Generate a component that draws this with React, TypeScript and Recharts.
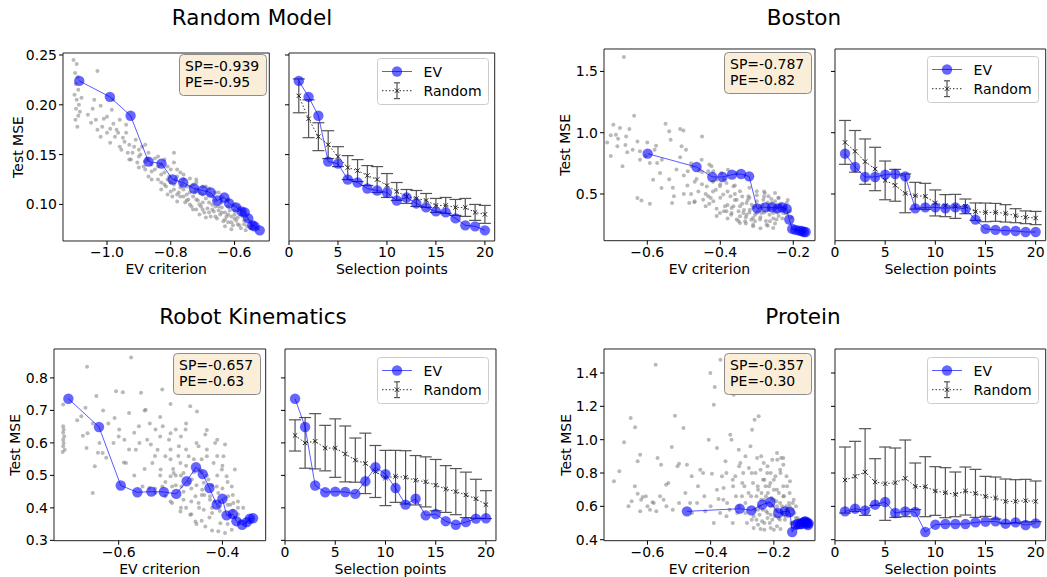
import React from "react";
import {
  ScatterChart,
  Scatter,
  LineChart,
  Line,
  XAxis,
  YAxis,
  ErrorBar,
  ReferenceArea,
  Label,
} from "recharts";

const FONT = "'DejaVu Sans', Verdana, sans-serif";

// ---------- data ----------
const steps = [1, 2, 3, 4, 5, 6, 7, 8, 9, 10, 11, 12, 13, 14, 15, 16, 17, 18, 19, 20];

// Random Model
const rmTitle = "Random Model";
const rmStats = ["SP=-0.939", "PE=-0.95"];
const rmEvCrit = [-1.087, -0.991, -0.926, -0.87, -0.829, -0.794, -0.761, -0.727, -0.7, -0.675, -0.654, -0.632, -0.617, -0.595, -0.578, -0.568, -0.557, -0.544, -0.537, -0.521];
const rmEvMse = [0.224, 0.208, 0.189, 0.143, 0.141, 0.125, 0.122, 0.116, 0.114, 0.112, 0.104, 0.107, 0.101, 0.097, 0.093, 0.092, 0.086, 0.079, 0.078, 0.074];
const rmRndMse = [0.209, 0.186, 0.168, 0.16, 0.148, 0.137, 0.134, 0.129, 0.125, 0.119, 0.113, 0.108, 0.106, 0.104, 0.099, 0.099, 0.097, 0.097, 0.092, 0.09];
const rmRndErr = [0.017, 0.019, 0.014, 0.014, 0.01, 0.012, 0.011, 0.01, 0.013, 0.012, 0.009, 0.007, 0.008, 0.007, 0.007, 0.008, 0.008, 0.009, 0.008, 0.009];
const rmCloud: [number, number][] = [
  [-1.105, 0.245], [-1.095, 0.241], [-1.1, 0.232], [-1.092, 0.228], [-1.098, 0.221], [-1.09, 0.215], [-1.102, 0.21], [-1.095, 0.205],
  [-1.088, 0.2], [-1.097, 0.196], [-1.09, 0.189], [-1.099, 0.185], [-1.093, 0.178], [-1.085, 0.193], [-1.08, 0.207],
  [-1.03, 0.234], [-1.04, 0.205], [-1.02, 0.199], [-1.05, 0.182], [-1.03, 0.175], [-1.01, 0.186], [-1.0, 0.172], [-0.98, 0.181],
  [-0.99, 0.162], [-0.97, 0.175], [-0.96, 0.158], [-0.95, 0.167], [-1.02, 0.168], [-0.985, 0.195], [-0.96, 0.185],
  [-0.94, 0.172], [-0.93, 0.16], [-0.92, 0.152], [-0.91, 0.165], [-0.9, 0.148], [-0.89, 0.158], [-0.88, 0.143], [-0.87, 0.152],
  [-0.86, 0.14], [-0.93, 0.145], [-0.9, 0.137], [-0.88, 0.16], [-0.86, 0.133], [-0.85, 0.146], [-0.87, 0.128],
  [-0.84, 0.138], [-0.83, 0.13], [-0.82, 0.145], [-0.81, 0.125], [-0.8, 0.135], [-0.79, 0.12], [-0.78, 0.128], [-0.77, 0.117],
  [-0.76, 0.125], [-0.82, 0.12], [-0.8, 0.113], [-0.78, 0.11], [-0.77, 0.132], [-0.75, 0.118], [-0.76, 0.108], [-0.79, 0.152], [-0.83, 0.122],
  [-0.74, 0.112], [-0.73, 0.12], [-0.72, 0.105], [-0.72, 0.115], [-0.71, 0.1], [-0.7, 0.11], [-0.7, 0.095], [-0.69, 0.118],
  [-0.68, 0.102], [-0.68, 0.092], [-0.67, 0.108], [-0.66, 0.098], [-0.66, 0.088], [-0.65, 0.112], [-0.74, 0.1], [-0.73, 0.095],
  [-0.71, 0.09], [-0.69, 0.087], [-0.64, 0.102], [-0.64, 0.092], [-0.63, 0.085], [-0.62, 0.098], [-0.62, 0.09], [-0.61, 0.082],
  [-0.6, 0.094], [-0.6, 0.086], [-0.59, 0.08], [-0.58, 0.09], [-0.58, 0.076], [-0.57, 0.084], [-0.56, 0.078], [-0.63, 0.078],
  [-0.61, 0.075], [-0.59, 0.098], [-0.55, 0.082], [-0.75, 0.104], [-0.72, 0.125], [-0.67, 0.095], [-0.65, 0.094], [-0.62, 0.105],
  [-0.84, 0.125], [-0.83, 0.115], [-0.82, 0.132], [-0.815, 0.118], [-0.81, 0.11], [-0.805, 0.128], [-0.8, 0.122], [-0.795, 0.108],
  [-0.79, 0.115], [-0.785, 0.125], [-0.78, 0.103], [-0.775, 0.112], [-0.77, 0.108], [-0.765, 0.12], [-0.76, 0.115], [-0.755, 0.102],
  [-0.75, 0.11], [-0.745, 0.105], [-0.74, 0.118], [-0.735, 0.098], [-0.73, 0.108], [-0.725, 0.112], [-0.72, 0.095], [-0.715, 0.104],
  [-0.71, 0.112], [-0.705, 0.098], [-0.7, 0.102], [-0.695, 0.092], [-0.69, 0.106], [-0.685, 0.096], [-0.68, 0.11], [-0.675, 0.088],
  [-0.67, 0.1], [-0.665, 0.093], [-0.66, 0.104], [-0.655, 0.086], [-0.65, 0.098], [-0.645, 0.09], [-0.64, 0.097], [-0.635, 0.083],
  [-0.63, 0.092], [-0.625, 0.088], [-0.62, 0.082], [-0.615, 0.094], [-0.61, 0.088], [-0.605, 0.079], [-0.6, 0.09], [-0.595, 0.084],
  [-0.59, 0.087], [-0.585, 0.079], [-0.575, 0.088], [-0.57, 0.08], [-0.565, 0.074], [-0.56, 0.085], [-0.55, 0.076], [-0.545, 0.079],
  [-0.9, 0.155], [-0.88, 0.135], [-0.87, 0.145], [-0.86, 0.125], [-0.85, 0.135], [-0.84, 0.148], [-0.83, 0.14], [-0.81, 0.138],
  [-0.79, 0.142], [-0.78, 0.135], [-0.76, 0.13], [-0.74, 0.126], [-0.72, 0.122], [-0.7, 0.118], [-0.68, 0.116], [-0.66, 0.112],
  [-0.64, 0.108], [-0.62, 0.104], [-0.6, 0.1], [-0.58, 0.095], [-1.06, 0.19], [-1.045, 0.196], [-1.035, 0.185], [-1.015, 0.178],
  [-1.0, 0.188], [-0.99, 0.176], [-0.975, 0.168], [-0.965, 0.172], [-0.955, 0.155], [-0.945, 0.163], [-0.935, 0.152], [-0.925, 0.145],
  [-0.915, 0.158], [-0.905, 0.142], [-0.895, 0.15], [-0.885, 0.138], [-0.875, 0.146], [-0.98, 0.205], [-0.94, 0.18],
];

// Boston
const bsTitle = "Boston";
const bsStats = ["SP=-0.787", "PE=-0.82"];
const bsEvCrit = [-0.599, -0.465, -0.422, -0.394, -0.368, -0.343, -0.321, -0.299, -0.276, -0.258, -0.243, -0.23, -0.218, -0.211, -0.203, -0.194, -0.184, -0.177, -0.171, -0.166];
const bsEvMse = [0.829, 0.72, 0.639, 0.639, 0.658, 0.663, 0.644, 0.383, 0.391, 0.391, 0.383, 0.391, 0.378, 0.291, 0.215, 0.207, 0.201, 0.198, 0.19, 0.19];
const bsRndMse = [0.921, 0.848, 0.764, 0.704, 0.611, 0.571, 0.505, 0.486, 0.481, 0.427, 0.405, 0.399, 0.399, 0.356, 0.35, 0.35, 0.342, 0.323, 0.31, 0.304];
const bsRndErr = [0.179, 0.17, 0.185, 0.177, 0.158, 0.13, 0.158, 0.109, 0.106, 0.106, 0.09, 0.098, 0.06, 0.071, 0.076, 0.073, 0.071, 0.057, 0.052, 0.054];
const bsCloud: [number, number][] = [
  [-0.664, 1.617], [-0.693, 1.065], [-0.686, 0.984], [-0.675, 1.038], [-0.649, 1.03], [-0.636, 1.139], [-0.627, 0.929], [-0.62, 0.848],
  [-0.682, 0.889], [-0.668, 0.726], [-0.658, 0.97], [-0.627, 0.467], [-0.616, 0.446], [-0.593, 0.421], [-0.584, 0.617], [-0.576, 0.894],
  [-0.573, 0.753], [-0.55, 1.073], [-0.54, 1.011], [-0.536, 0.943], [-0.532, 0.427], [-0.527, 0.481], [-0.561, 0.549], [-0.565, 0.671],
  [-0.593, 0.753], [-0.605, 0.807], [-0.506, 0.889], [-0.494, 0.861], [-0.485, 0.427], [-0.471, 0.432], [-0.465, 0.622], [-0.45, 0.97],
  [-0.51, 1.03], [-0.501, 1.019], [-0.489, 0.685], [-0.479, 0.726], [-0.458, 0.69], [-0.451, 0.78], [-0.437, 0.562], [-0.433, 0.481],
  [-0.447, 0.454], [-0.424, 0.726], [-0.419, 0.685], [-0.41, 0.617], [-0.412, 0.535], [-0.401, 0.563], [-0.392, 0.495], [-0.383, 0.59],
  [-0.419, 0.44], [-0.401, 0.345], [-0.383, 0.359], [-0.369, 0.386], [-0.372, 0.481], [-0.355, 0.454], [-0.346, 0.399], [-0.337, 0.345],
  [-0.328, 0.427], [-0.319, 0.372], [-0.346, 0.318], [-0.332, 0.277], [-0.31, 0.304], [-0.3, 0.345], [-0.291, 0.399], [-0.282, 0.454],
  [-0.278, 0.508], [-0.268, 0.481], [-0.259, 0.427], [-0.255, 0.345], [-0.246, 0.291], [-0.264, 0.277], [-0.237, 0.399], [-0.228, 0.345],
  [-0.25, 0.508], [-0.291, 0.291], [-0.31, 0.236], [-0.273, 0.25], [-0.255, 0.223], [-0.364, 0.563], [-0.346, 0.522], [-0.3, 0.522],
  [-0.323, 0.481], [-0.397, 0.671], [-0.379, 0.698], [-0.355, 0.671], [-0.433, 0.685], [-0.426, 0.467], [-0.387, 0.399], [-0.364, 0.399],
  [-0.314, 0.413], [-0.305, 0.399], [-0.287, 0.345], [-0.268, 0.372], [-0.246, 0.399], [-0.241, 0.467], [-0.218, 0.427], [-0.223, 0.372],
  [-0.328, 0.331], [-0.305, 0.277], [-0.346, 0.264], [-0.369, 0.345], [-0.355, 0.291], [-0.71, 0.92], [-0.7, 0.81], [-0.655, 0.84],
  [-0.34, 0.42], [-0.335, 0.37], [-0.33, 0.31], [-0.325, 0.45], [-0.32, 0.35], [-0.315, 0.29], [-0.31, 0.39], [-0.305, 0.33],
  [-0.3, 0.44], [-0.295, 0.37], [-0.29, 0.31], [-0.285, 0.41], [-0.28, 0.35], [-0.275, 0.28], [-0.27, 0.43], [-0.265, 0.33],
  [-0.26, 0.38], [-0.255, 0.3], [-0.25, 0.44], [-0.245, 0.35], [-0.24, 0.32], [-0.235, 0.42], [-0.23, 0.3], [-0.225, 0.39],
  [-0.22, 0.34], [-0.215, 0.45], [-0.21, 0.36], [-0.205, 0.31], [-0.35, 0.36], [-0.36, 0.45], [-0.37, 0.33], [-0.38, 0.41],
  [-0.39, 0.36], [-0.4, 0.47], [-0.41, 0.38], [-0.42, 0.52], [-0.43, 0.42], [-0.44, 0.5], [-0.45, 0.58], [-0.46, 0.52],
  [-0.47, 0.6], [-0.48, 0.5], [-0.49, 0.57], [-0.5, 0.65], [-0.52, 0.7], [-0.54, 0.62], [-0.56, 0.78], [-0.58, 0.86],
  [-0.6, 0.92], [-0.62, 0.78], [-0.64, 0.86], [-0.66, 0.9], [-0.68, 0.95], [-0.7, 0.98], [-0.42, 0.6], [-0.4, 0.58],
  [-0.38, 0.52], [-0.36, 0.5], [-0.34, 0.48], [-0.32, 0.47], [-0.3, 0.49], [-0.28, 0.48], [-0.26, 0.46], [-0.24, 0.47],
  [-0.33, 0.26], [-0.31, 0.25], [-0.27, 0.24], [-0.25, 0.26], [-0.29, 0.22], [-0.35, 0.28], [-0.38, 0.3], [-0.41, 0.32],
  [-0.44, 0.4], [-0.47, 0.44], [-0.5, 0.5], [-0.53, 0.55], [-0.45, 0.68], [-0.48, 0.75], [-0.51, 0.8], [-0.43, 0.74],
  [-0.39, 0.62], [-0.36, 0.57], [-0.32, 0.55], [-0.28, 0.52],
];

// Robot Kinematics
const rkTitle = "Robot Kinematics";
const rkStats = ["SP=-0.657", "PE=-0.63"];
const rkEvCrit = [-0.697, -0.638, -0.596, -0.564, -0.537, -0.513, -0.489, -0.469, -0.451, -0.438, -0.425, -0.411, -0.4, -0.392, -0.38, -0.373, -0.362, -0.353, -0.347, -0.341];
const rkEvMse = [0.736, 0.649, 0.469, 0.448, 0.45, 0.449, 0.443, 0.482, 0.525, 0.504, 0.461, 0.41, 0.428, 0.377, 0.381, 0.359, 0.348, 0.356, 0.367, 0.368];
const rkRndMse = [0.623, 0.6, 0.605, 0.584, 0.584, 0.566, 0.547, 0.537, 0.512, 0.492, 0.497, 0.494, 0.485, 0.48, 0.47, 0.458, 0.45, 0.44, 0.428, 0.41];
const rkRndErr = [0.048, 0.078, 0.085, 0.07, 0.09, 0.086, 0.068, 0.093, 0.08, 0.085, 0.08, 0.082, 0.076, 0.077, 0.079, 0.072, 0.071, 0.07, 0.06, 0.043];
const rkCloud: [number, number][] = [
  [-0.707, 0.651], [-0.706, 0.641], [-0.707, 0.631], [-0.705, 0.62], [-0.707, 0.61], [-0.706, 0.6], [-0.707, 0.59], [-0.704, 0.579],
  [-0.708, 0.572], [-0.707, 0.718], [-0.661, 0.834], [-0.664, 0.708], [-0.672, 0.682], [-0.669, 0.622], [-0.662, 0.584], [-0.646, 0.528],
  [-0.65, 0.446], [-0.643, 0.744], [-0.637, 0.6], [-0.631, 0.569], [-0.624, 0.554], [-0.608, 0.677], [-0.605, 0.759], [-0.592, 0.756],
  [-0.599, 0.641], [-0.589, 0.61], [-0.586, 0.538], [-0.58, 0.692], [-0.576, 0.863], [-0.57, 0.631], [-0.567, 0.579], [-0.561, 0.651],
  [-0.557, 0.754], [-0.548, 0.702], [-0.545, 0.61], [-0.538, 0.595], [-0.535, 0.538], [-0.529, 0.641], [-0.525, 0.579], [-0.519, 0.518],
  [-0.516, 0.764], [-0.515, 0.651], [-0.51, 0.559], [-0.503, 0.61], [-0.5, 0.497], [-0.497, 0.466], [-0.49, 0.641], [-0.484, 0.59],
  [-0.481, 0.538], [-0.479, 0.466], [-0.475, 0.425], [-0.471, 0.641], [-0.465, 0.559], [-0.462, 0.713], [-0.459, 0.487], [-0.452, 0.436],
  [-0.449, 0.697], [-0.446, 0.59], [-0.443, 0.518], [-0.439, 0.456], [-0.436, 0.394], [-0.433, 0.626], [-0.43, 0.559], [-0.427, 0.487],
  [-0.424, 0.436], [-0.42, 0.384], [-0.417, 0.538], [-0.414, 0.6], [-0.411, 0.466], [-0.408, 0.405], [-0.404, 0.353], [-0.401, 0.518],
  [-0.398, 0.559], [-0.395, 0.595], [-0.392, 0.497], [-0.389, 0.436], [-0.385, 0.374], [-0.382, 0.466], [-0.379, 0.415], [-0.376, 0.518],
  [-0.382, 0.333], [-0.408, 0.328], [-0.395, 0.323], [-0.433, 0.343], [-0.462, 0.379], [-0.452, 0.358], [-0.481, 0.389], [-0.497, 0.415],
  [-0.529, 0.446], [-0.51, 0.436], [-0.541, 0.461], [-0.554, 0.466], [-0.446, 0.415], [-0.424, 0.425], [-0.408, 0.446], [-0.475, 0.507],
  [-0.494, 0.507], [-0.516, 0.466], [-0.436, 0.477], [-0.37, 0.42], [-0.455, 0.55], [-0.5, 0.58], [-0.52, 0.62], [-0.44, 0.51],
  [-0.5, 0.55], [-0.495, 0.52], [-0.49, 0.47], [-0.485, 0.56], [-0.48, 0.5], [-0.475, 0.45], [-0.47, 0.53], [-0.465, 0.48],
  [-0.46, 0.42], [-0.455, 0.51], [-0.45, 0.47], [-0.445, 0.4], [-0.44, 0.55], [-0.435, 0.44], [-0.43, 0.5], [-0.425, 0.37],
  [-0.42, 0.47], [-0.415, 0.42], [-0.41, 0.56], [-0.405, 0.39], [-0.4, 0.46], [-0.395, 0.43], [-0.39, 0.35], [-0.385, 0.41],
  [-0.38, 0.39], [-0.375, 0.37], [-0.37, 0.4], [-0.365, 0.36], [-0.42, 0.33], [-0.44, 0.36], [-0.46, 0.38], [-0.48, 0.4],
  [-0.5, 0.42], [-0.52, 0.5], [-0.53, 0.56], [-0.55, 0.52], [-0.56, 0.6], [-0.58, 0.58], [-0.6, 0.62], [-0.62, 0.66],
  [-0.64, 0.57], [-0.66, 0.63], [-0.68, 0.67], [-0.54, 0.66], [-0.52, 0.68], [-0.5, 0.63], [-0.48, 0.62], [-0.47, 0.58],
  [-0.45, 0.6], [-0.43, 0.58], [-0.41, 0.5], [-0.39, 0.48], [-0.4, 0.53], [-0.44, 0.44], [-0.46, 0.46], [-0.49, 0.5],
  [-0.51, 0.48], [-0.53, 0.46], [-0.57, 0.5], [-0.59, 0.54], [-0.61, 0.6], [-0.63, 0.7], [-0.65, 0.66], [-0.55, 0.7],
  [-0.5, 0.72], [-0.47, 0.66], [-0.43, 0.64], [-0.41, 0.61], [-0.37, 0.38], [-0.36, 0.4], [-0.38, 0.44], [-0.39, 0.41],
  [-0.42, 0.4], [-0.45, 0.35], [-0.47, 0.4],
];

// Protein
const prTitle = "Protein";
const prStats = ["SP=-0.357", "PE=-0.30"];
const prEvCrit = [-0.475, -0.308, -0.271, -0.237, -0.211, -0.186, -0.165, -0.149, -0.142, -0.131, -0.124, -0.117, -0.112, -0.107, -0.103, -0.1, -0.097, -0.095, -0.092, -0.09];
const prEvMse = [0.57, 0.586, 0.576, 0.61, 0.626, 0.56, 0.57, 0.566, 0.446, 0.49, 0.494, 0.494, 0.494, 0.504, 0.508, 0.51, 0.496, 0.504, 0.488, 0.498];
const prRndMse = [0.758, 0.78, 0.806, 0.746, 0.736, 0.742, 0.768, 0.72, 0.718, 0.692, 0.682, 0.672, 0.692, 0.678, 0.66, 0.65, 0.63, 0.63, 0.634, 0.63];
const prRndErr = [0.198, 0.21, 0.26, 0.14, 0.22, 0.208, 0.23, 0.14, 0.18, 0.146, 0.15, 0.134, 0.144, 0.144, 0.12, 0.126, 0.134, 0.13, 0.128, 0.122];
const prCloud: [number, number][] = [
  [-0.706, 0.75], [-0.689, 0.81], [-0.674, 0.984], [-0.653, 1.13], [-0.639, 1.074], [-0.631, 0.87], [-0.631, 0.676], [-0.65, 0.63],
  [-0.623, 0.57], [-0.615, 0.656], [-0.605, 0.66], [-0.592, 0.58], [-0.584, 0.624], [-0.574, 1.45], [-0.572, 0.57], [-0.557, 0.85],
  [-0.549, 0.64], [-0.541, 0.73], [-0.534, 0.74], [-0.523, 0.956], [-0.513, 1.144], [-0.505, 0.84], [-0.5, 0.856], [-0.486, 1.07],
  [-0.475, 0.85], [-0.465, 0.62], [-0.459, 0.56], [-0.443, 0.62], [-0.433, 0.82], [-0.424, 0.8], [-0.417, 0.57], [-0.406, 1.0],
  [-0.401, 1.4], [-0.396, 0.796], [-0.39, 1.21], [-0.387, 1.316], [-0.38, 0.95], [-0.375, 0.644], [-0.369, 1.48], [-0.364, 0.78],
  [-0.359, 0.71], [-0.353, 0.87], [-0.348, 0.62], [-0.343, 1.36], [-0.338, 1.03], [-0.334, 1.0], [-0.329, 0.72], [-0.327, 1.27],
  [-0.322, 0.78], [-0.316, 0.56], [-0.311, 0.94], [-0.306, 0.86], [-0.301, 0.66], [-0.297, 0.8], [-0.293, 0.72], [-0.29, 0.62],
  [-0.285, 0.5], [-0.279, 0.83], [-0.274, 0.96], [-0.272, 0.66], [-0.269, 1.06], [-0.266, 0.74], [-0.264, 0.54], [-0.261, 1.12],
  [-0.258, 0.8], [-0.255, 0.66], [-0.253, 0.89], [-0.251, 0.72], [-0.248, 1.14], [-0.245, 0.6], [-0.242, 0.82], [-0.239, 0.68],
  [-0.237, 0.51], [-0.234, 0.76], [-0.232, 0.86], [-0.23, 0.64], [-0.226, 0.72], [-0.224, 0.57], [-0.221, 0.8], [-0.219, 0.68],
  [-0.216, 0.62], [-0.213, 0.5], [-0.211, 0.74], [-0.207, 0.65], [-0.205, 0.88], [-0.202, 0.6], [-0.2, 0.7], [-0.197, 0.54],
  [-0.195, 0.78], [-0.192, 0.63], [-0.189, 0.88], [-0.187, 0.57], [-0.184, 0.68], [-0.181, 0.52], [-0.179, 0.8], [-0.177, 0.89],
  [-0.174, 0.6], [-0.17, 0.89], [-0.168, 0.66], [-0.163, 0.54], [-0.158, 0.72], [-0.152, 0.62], [-0.149, 0.75], [-0.145, 0.5],
  [-0.142, 0.58], [-0.137, 0.64], [-0.131, 0.53], [-0.126, 0.47], [-0.264, 0.47], [-0.242, 0.464], [-0.2, 0.46], [-0.179, 0.464],
  [-0.623, 0.91], [-0.568, 0.89], [-0.21, 0.55], [-0.19, 0.6], [-0.17, 0.56], [-0.16, 0.6], [-0.22, 0.53], [-0.25, 0.58],
  [-0.26, 0.58], [-0.255, 0.52], [-0.25, 0.7], [-0.245, 0.55], [-0.24, 0.64], [-0.235, 0.58], [-0.23, 0.5], [-0.225, 0.66],
  [-0.22, 0.56], [-0.215, 0.72], [-0.21, 0.6], [-0.205, 0.52], [-0.2, 0.64], [-0.195, 0.58], [-0.19, 0.7], [-0.185, 0.53],
  [-0.18, 0.62], [-0.175, 0.56], [-0.17, 0.66], [-0.165, 0.52], [-0.16, 0.58], [-0.155, 0.54], [-0.15, 0.6], [-0.145, 0.55],
  [-0.14, 0.5], [-0.135, 0.56], [-0.13, 0.48], [-0.125, 0.53], [-0.2, 0.76], [-0.18, 0.82], [-0.16, 0.78], [-0.22, 0.84],
  [-0.24, 0.9], [-0.19, 0.92], [-0.17, 0.85], [-0.28, 0.68], [-0.3, 0.74], [-0.32, 0.66], [-0.34, 0.58], [-0.36, 0.64],
  [-0.38, 0.7], [-0.4, 0.6], [-0.42, 0.66], [-0.44, 0.72], [-0.46, 0.78], [-0.48, 0.68], [-0.5, 0.62], [-0.52, 0.58],
  [-0.54, 0.6], [-0.56, 0.66], [-0.58, 0.62], [-0.6, 0.6], [-0.62, 0.64], [-0.64, 0.72], [-0.66, 0.6], [-0.21, 0.47],
  [-0.19, 0.48], [-0.23, 0.46], [-0.25, 0.49], [-0.27, 0.52], [-0.29, 0.56], [-0.31, 0.6], [-0.33, 0.5], [-0.35, 0.54],
  [-0.37, 0.56], [-0.39, 0.5], [-0.27, 0.8], [-0.29, 0.9], [-0.31, 0.84], [-0.33, 0.76], [-0.35, 0.8], [-0.23, 0.76],
  [-0.21, 0.8], [-0.14, 0.62], [-0.13, 0.6], [-0.12, 0.52], [-0.15, 0.68], [-0.17, 0.72],
];

// ---------- layout helpers ----------
type Box = { left: number; top: number; right: number; bottom: number };

const MT = 10;
const MR = 10;
const XH = 40;
const BLUE = "#0000ff";
const tickStyle = { fontSize: 14, fill: "#000", fontFamily: FONT };
const labelStyle = { fontSize: 14, fill: "#000", fontFamily: FONT };

const signed = (v: number, d: number) => (v < 0 ? "\u2212" : "") + Math.abs(v).toFixed(d);

const grayDot = (p: any) => (
  <circle cx={p.cx} cy={p.cy} r={2} fill="#808080" fillOpacity={0.55} />
);
const blueDot = (p: any) => (
  <circle key={`b${p.index}`} cx={p.cx} cy={p.cy} r={5.2} fill={BLUE} fillOpacity={0.6} />
);
const xDot = (p: any) => (
  <path
    key={`x${p.index}`}
    d={`M${p.cx - 2.2},${p.cy - 2.2}L${p.cx + 2.2},${p.cy + 2.2}M${p.cx - 2.2},${p.cy + 2.2}L${p.cx + 2.2},${p.cy - 2.2}`}
    stroke="#222"
    strokeWidth={1}
  />
);

interface ScatterProps {
  box: Box;
  xDomain: [number, number];
  yDomain: [number, number];
  xTicks: number[];
  yTicks: number[];
  yDigits: number;
  yLabelDist: number;
  cloud: [number, number][];
  evX: number[];
  evY: number[];
}

function ScatterPanel({ box, xDomain, yDomain, xTicks, yTicks, yDigits, yLabelDist, cloud, evX, evY }: ScatterProps) {
  const yw = 60;
  const w = box.right - box.left;
  const h = box.bottom - box.top;
  const cloudPts = cloud.map(([x, y]) => ({ x, y }));
  const evPts = evX.map((x, i) => ({ x, y: evY[i] }));
  return (
    <div style={{ position: "absolute", left: box.left - yw, top: box.top - MT }}>
      <ScatterChart width={w + yw + MR} height={h + MT + XH} margin={{ top: MT, right: MR, bottom: 0, left: 0 }}>
        <XAxis
          type="number"
          dataKey="x"
          domain={xDomain}
          allowDataOverflow
          ticks={xTicks}
          interval={0}
          height={XH}
          axisLine={false}
          tickSize={4}
          tickMargin={2}
          tickLine={{ stroke: "#000" }}
          tick={tickStyle}
          tickFormatter={(v: number) => signed(v, 1)}
        >
          <Label
            value="EV criterion"
            content={() => (
              <text x={yw + w / 2} y={MT + h + 33} textAnchor="middle" style={labelStyle}>
                EV criterion
              </text>
            )}
          />
        </XAxis>
        <YAxis
          type="number"
          dataKey="y"
          domain={yDomain}
          allowDataOverflow
          ticks={yTicks}
          interval={0}
          width={yw}
          axisLine={false}
          tickSize={4}
          tickMargin={2}
          tickLine={{ stroke: "#000" }}
          tick={tickStyle}
          tickFormatter={(v: number) => v.toFixed(yDigits)}
        >
          <Label
            value="Test MSE"
            content={() => (
              <text
                x={yw - yLabelDist}
                y={MT + h / 2}
                textAnchor="middle"
                dominantBaseline="central"
                transform={`rotate(-90 ${yw - yLabelDist} ${MT + h / 2})`}
                style={labelStyle}
              >
                Test MSE
              </text>
            )}
          />
        </YAxis>
        <Scatter data={cloudPts} shape={grayDot} isAnimationActive={false} />
        <Scatter
          data={evPts}
          shape={blueDot}
          line={{ stroke: BLUE, strokeOpacity: 0.65, strokeWidth: 1 }}
          isAnimationActive={false}
        />
        <ReferenceArea x1={xDomain[0]} x2={xDomain[1]} y1={yDomain[0]} y2={yDomain[1]} fill="none" stroke="#222" strokeWidth={1} />
      </ScatterChart>
    </div>
  );
}

interface LineProps {
  box: Box;
  yDomain: [number, number];
  yTicks: number[];
  ev: number[];
  rnd: number[];
  err: number[];
}

const xSteps: [number, number] = [0, 21];
const stepTicks = [0, 5, 10, 15, 20];

function LinePanel({ box, yDomain, yTicks, ev, rnd, err }: LineProps) {
  const yw = 10;
  const w = box.right - box.left;
  const h = box.bottom - box.top;
  const rows = steps.map((s, i) => ({ step: s, ev: ev[i], rnd: rnd[i], err: err[i] }));
  return (
    <div style={{ position: "absolute", left: box.left - yw, top: box.top - MT }}>
      <LineChart width={w + yw + MR} height={h + MT + XH} data={rows} margin={{ top: MT, right: MR, bottom: 0, left: 0 }}>
        <XAxis
          type="number"
          dataKey="step"
          domain={xSteps}
          allowDataOverflow
          ticks={stepTicks}
          interval={0}
          height={XH}
          axisLine={false}
          tickSize={4}
          tickMargin={2}
          tickLine={{ stroke: "#000" }}
          tick={tickStyle}
        >
          <Label
            value="Selection points"
            content={() => (
              <text x={yw + w / 2} y={MT + h + 33} textAnchor="middle" style={labelStyle}>
                Selection points
              </text>
            )}
          />
        </XAxis>
        <YAxis
          type="number"
          domain={yDomain}
          allowDataOverflow
          ticks={yTicks}
          interval={0}
          width={yw}
          axisLine={false}
          tickSize={4}
          tickLine={{ stroke: "#000" }}
          tick={tickStyle}
          tickFormatter={() => ""}
        />
        <Line
          dataKey="rnd"
          stroke="#333"
          strokeWidth={1}
          strokeDasharray="1.5 2"
          dot={xDot}
          activeDot={false}
          isAnimationActive={false}
        >
          <ErrorBar dataKey="err" width={6} stroke="#555" strokeWidth={1.2} direction="y" />
        </Line>
        <Line
          dataKey="ev"
          stroke={BLUE}
          strokeOpacity={0.65}
          strokeWidth={1}
          dot={blueDot}
          activeDot={false}
          isAnimationActive={false}
        />
        <ReferenceArea x1={xSteps[0]} x2={xSteps[1]} y1={yDomain[0]} y2={yDomain[1]} fill="none" stroke="#222" strokeWidth={1} />
      </LineChart>
    </div>
  );
}

function StatBox({ left, top, lines }: { left: number; top: number; lines: string[] }) {
  return (
    <svg style={{ position: "absolute", left, top }} width={89} height={43}>
      <rect x={0.5} y={0.5} width={87} height={41} rx={4} fill="#faeed9" stroke="#8c8c8c" />
      {lines.map((t, i) => (
        <text key={t} x={6} y={11.5 + i * 16.2} dominantBaseline="central" style={labelStyle}>
          {t}
        </text>
      ))}
    </svg>
  );
}

function LegendBox({ left, top }: { left: number; top: number }) {
  return (
    <svg style={{ position: "absolute", left, top }} width={113} height={48}>
      <rect x={0.5} y={0.5} width={111} height={46} rx={3} fill="#fff" fillOpacity={0.8} stroke="#cccccc" />
      <line x1={5} x2={35} y1={13.5} y2={13.5} stroke={BLUE} strokeOpacity={0.65} />
      <circle cx={20} cy={13.5} r={5.2} fill={BLUE} fillOpacity={0.6} />
      <text x={46.6} y={13.5} dominantBaseline="central" style={labelStyle}>
        EV
      </text>
      <line x1={5} x2={35} y1={32.7} y2={32.7} stroke="#333" strokeDasharray="1.5 2" />
      <line x1={20} x2={20} y1={24.8} y2={40.6} stroke="#555" strokeWidth={1.2} />
      <line x1={17} x2={23} y1={24.8} y2={24.8} stroke="#555" strokeWidth={1.2} />
      <line x1={17} x2={23} y1={40.6} y2={40.6} stroke="#555" strokeWidth={1.2} />
      <path d="M17.8,30.5L22.2,34.9M17.8,34.9L22.2,30.5" stroke="#222" strokeWidth={1} />
      <text x={46.6} y={32.7} dominantBaseline="central" style={labelStyle}>
        Random
      </text>
    </svg>
  );
}

function Title({ cx, cy, text }: { cx: number; cy: number; text: string }) {
  return (
    <div
      style={{
        position: "absolute",
        left: cx - 150,
        top: cy - 12,
        width: 300,
        height: 24,
        lineHeight: "24px",
        textAlign: "center",
        fontSize: 21.5,
        color: "#000",
      }}
    >
      {text}
    </div>
  );
}

export default function App() {
  return (
    <div
      style={{
        position: "absolute",
        left: 0,
        top: 0,
        width: 1047,
        height: 577,
        background: "#fff",
        fontFamily: FONT,
        overflow: "hidden",
      }}
    >
      <Title cx={252} cy={18} text={rmTitle} />
      <Title cx={804} cy={18} text={bsTitle} />
      <Title cx={253} cy={317} text={rkTitle} />
      <Title cx={803} cy={317} text={prTitle} />

      <ScatterPanel
        box={{ left: 62.7, top: 53, right: 269, bottom: 241 }}
        xDomain={[-1.138, -0.491]}
        yDomain={[0.0633, 0.252]}
        xTicks={[-1.0, -0.8, -0.6]}
        yTicks={[0.1, 0.15, 0.2, 0.25]}
        yDigits={2}
        yLabelDist={44.7}
        cloud={rmCloud}
        evX={rmEvCrit}
        evY={rmEvMse}
      />
      <LinePanel
        box={{ left: 289.3, top: 53, right: 495, bottom: 241 }}
        yDomain={[0.0633, 0.252]}
        yTicks={[0.1, 0.15, 0.2, 0.25]}
        ev={rmEvMse}
        rnd={rmRndMse}
        err={rmRndErr}
      />

      <ScatterPanel
        box={{ left: 604, top: 49.3, right: 815, bottom: 241 }}
        xDomain={[-0.7186, -0.1405]}
        yDomain={[0.119, 1.683]}
        xTicks={[-0.6, -0.4, -0.2]}
        yTicks={[0.5, 1.0, 1.5]}
        yDigits={1}
        yLabelDist={39}
        cloud={bsCloud}
        evX={bsEvCrit}
        evY={bsEvMse}
      />
      <LinePanel
        box={{ left: 835, top: 49.3, right: 1045.7, bottom: 241 }}
        yDomain={[0.119, 1.683]}
        yTicks={[0.5, 1.0, 1.5]}
        ev={bsEvMse}
        rnd={bsRndMse}
        err={bsRndErr}
      />

      <ScatterPanel
        box={{ left: 54, top: 349.3, right: 265.7, bottom: 541 }}
        xDomain={[-0.7247, -0.3166]}
        yDomain={[0.299, 0.889]}
        xTicks={[-0.6, -0.4]}
        yTicks={[0.3, 0.4, 0.5, 0.6, 0.7, 0.8]}
        yDigits={1}
        yLabelDist={39}
        cloud={rkCloud}
        evX={rkEvCrit}
        evY={rkEvMse}
      />
      <LinePanel
        box={{ left: 285, top: 349.3, right: 496, bottom: 541 }}
        yDomain={[0.299, 0.889]}
        yTicks={[0.3, 0.4, 0.5, 0.6, 0.7, 0.8]}
        ev={rkEvMse}
        rnd={rkRndMse}
        err={rkRndErr}
      />

      <ScatterPanel
        box={{ left: 604, top: 349.3, right: 815, bottom: 541 }}
        xDomain={[-0.7375, -0.0698]}
        yDomain={[0.394, 1.544]}
        xTicks={[-0.6, -0.4, -0.2]}
        yTicks={[0.4, 0.6, 0.8, 1.0, 1.2, 1.4]}
        yDigits={1}
        yLabelDist={38}
        cloud={prCloud}
        evX={prEvCrit}
        evY={prEvMse}
      />
      <LinePanel
        box={{ left: 835, top: 349.3, right: 1045.7, bottom: 541 }}
        yDomain={[0.394, 1.544]}
        yTicks={[0.4, 0.6, 0.8, 1.0, 1.2, 1.4]}
        ev={prEvMse}
        rnd={prRndMse}
        err={prRndErr}
      />

      <StatBox left={179} top={54} lines={rmStats} />
      <StatBox left={724.3} top={52.3} lines={bsStats} />
      <StatBox left={173.3} top={353.3} lines={rkStats} />
      <StatBox left={724.3} top={353.3} lines={prStats} />

      <LegendBox left={376.7} top={58.3} />
      <LegendBox left={927.3} top={56} />
      <LegendBox left={376.7} top={356.7} />
      <LegendBox left={927.3} top={357.3} />
    </div>
  );
}
